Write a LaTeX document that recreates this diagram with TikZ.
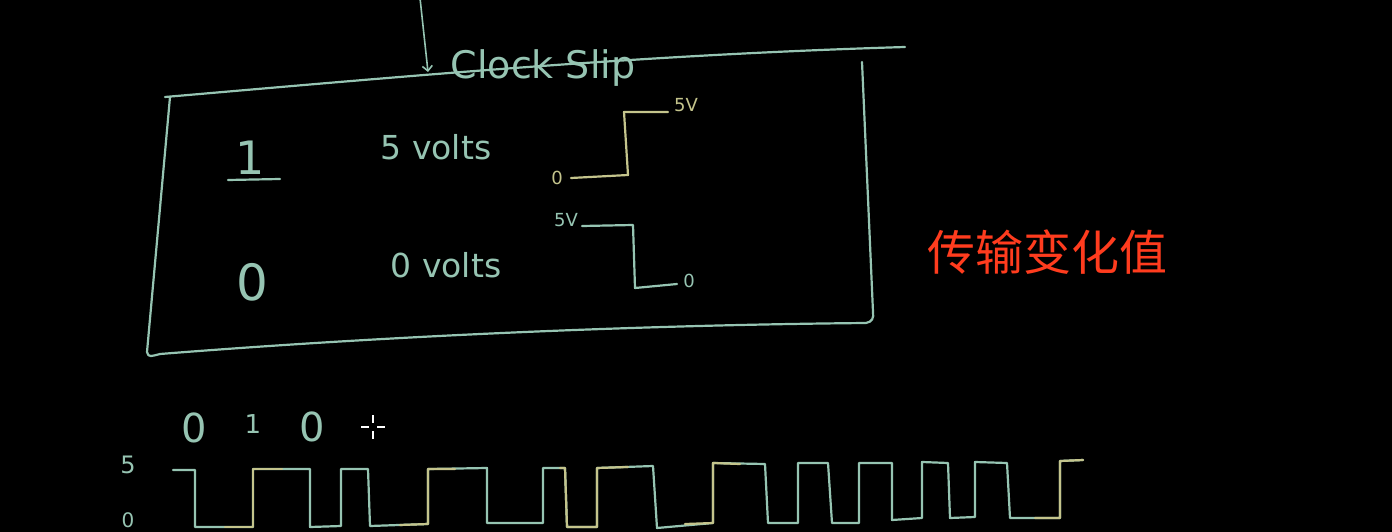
\documentclass[tikz,border=0pt]{standalone}
\usepackage{fontspec}
\setmainfont{DejaVu Sans}
\newfontfamily\cjk{Noto Sans CJK SC}
\usetikzlibrary{arrows.meta}
\definecolor{chalk}{RGB}{150,196,178}
\definecolor{chalky}{RGB}{196,196,140}
\definecolor{redtxt}{RGB}{255,60,30}
\begin{document}
\begin{tikzpicture}[x=1pt,y=-1pt,
  hand/.style={text=chalk,font=\fontsize{33}{35}\selectfont,inner sep=0pt},
  small/.style={text=chalk,font=\fontsize{18}{20}\selectfont,inner sep=0pt},
  ln/.style={draw=chalk,line width=2.2pt,line cap=round,line join=round},
  lny/.style={draw=chalky,line width=2.2pt,line cap=round,line join=round}]
\fill[black] (0,0) rectangle (1392,532);
\useasboundingbox (0,0) rectangle (1392,532);
% arrow into Clock Slip
\coordinate (atop) at (420,-2);
\coordinate (aend) at (428,72);
\draw[ln,line width=1.6pt,-{Straight Barb[length=5pt]}] (atop) -- (aend);
\node[hand,font=\fontsize{38}{40}\selectfont] (title) at (543,68) {Clock Slip};
% box
\draw[ln] (165,97) .. controls (420,75) and (640,55) .. (905,47);
\draw[ln] (170,97) -- (147,352) .. controls (148,358) and (152,356) .. (160,354)
  .. controls (400,335) and (650,325) .. (866,323) .. controls (872,322) and (874,318) .. (873,312)
  -- (862,62);
% rows
\node[hand,font=\fontsize{46}{48}\selectfont] (one) at (250,158) {1};
\draw[ln] (228,180) -- (280,179);
\node[hand] (fivev) at (436,147) {5 volts};
\node[hand,font=\fontsize{50}{52}\selectfont] (zero) at (252,282) {0};
\node[hand] (zerov) at (446,265) {0 volts};
% upper step
\node[small,text=chalky] (s0) at (557,178) {0};
\node[small,text=chalky] (s5) at (686,105) {5V};
\draw[lny] (s0.east) ++(8,0) -- (628,175) -- (624,112) -- ([xshift=-6pt]s5.west |- 0,112);
% lower step
\node[small] (t5) at (566,220) {5V};
\node[small] (t0) at (689,281) {0};
\draw[ln] ([xshift=4pt]t5.east |- 0,226) -- (633,225) -- (635,288) -- ([xshift=-6pt]t0.west |- 0,284);
% red label
\node[text=redtxt,font=\cjk\fontsize{48}{50}\selectfont,inner sep=0pt] (lbl) at (1047,252) {传输变化值};
% bits
\node[hand,font=\fontsize{40}{42}\selectfont] (b0) at (194,428) {0};
\node[hand,font=\fontsize{26}{28}\selectfont] (b1) at (253,424) {1};
\node[hand,font=\fontsize{40}{42}\selectfont] (b2) at (312,427) {0};
% cursor
\draw[white,line width=1.2pt] (361,427) -- (369,427) (377,427) -- (385,427)
  (373,415) -- (373,423) (373,431) -- (373,439);
% axis labels
\node[small,font=\fontsize{24}{26}\selectfont] (l5) at (128,465) {5};
\node[small,font=\fontsize{20}{22}\selectfont] (l0) at (128,520) {0};
% waveform
\draw[ln] (173,470) -- (195,470) -- (195,527) -- (253,527) -- (253,469) -- (310,469)
 -- (310,527) -- (341,526) -- (341,469) -- (368,469) -- (370,526) -- (428,524)
 -- (428,469) -- (487,468) -- (487,523) -- (543,523) -- (543,468) -- (565,468)
 -- (567,527) -- (597,527) -- (597,468) -- (653,466) -- (657,528) -- (713,523)
 -- (713,463) -- (765,464) -- (768,523) -- (798,523) -- (798,463) -- (828,463)
 -- (832,523) -- (859,523) -- (859,463) -- (892,463) -- (892,520) -- (922,518)
 -- (922,462) -- (948,463) -- (950,518) -- (975,517) -- (975,462) -- (1007,463)
 -- (1010,518) -- (1060,518) -- (1060,461) -- (1083,460);
\draw[lny] (225,527) -- (253,527) -- (253,469) -- (282,469);
\draw[lny] (400,525) -- (428,524) -- (428,469) -- (455,469);
\draw[lny] (560,468) -- (565,468) -- (567,527) -- (597,527) -- (597,468) -- (628,467);
\draw[lny] (685,524) -- (713,523) -- (713,463) -- (740,464);
\draw[lny] (1035,518) -- (1060,518) -- (1060,461) -- (1083,460);
\end{tikzpicture}
\end{document}
